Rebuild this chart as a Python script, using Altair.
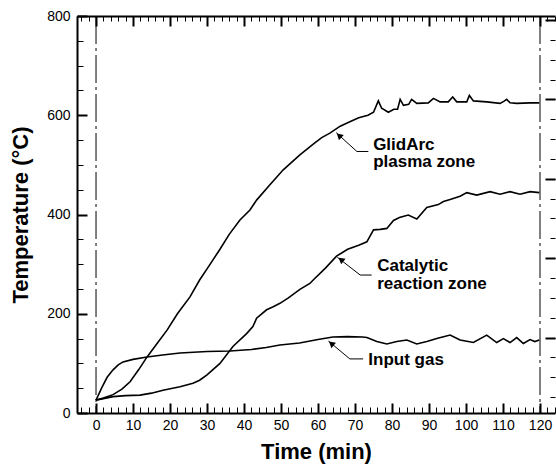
import altair as alt
import pandas as pd

# ---------------- data ----------------
glidarc_t = [0, 2, 4.6, 7, 9.2, 11.5, 13.8, 16.5, 19.2, 22, 25.4, 28, 30.5, 33.5, 36, 38.9,
             41.6, 43.4, 47, 50.6, 55.1, 58.7, 61, 63.2, 66, 68.6, 71, 73.5, 75, 76.3, 77.2,
             79, 80.5, 81.5, 82.2, 83.1, 84.5, 85.3, 86.7, 89.8, 91.2, 93, 95.2, 96.4, 97.5,
             100.2, 100.9, 102, 105.6, 109.2, 110.2, 111, 111.9, 113.7, 117.3, 119.8]
glidarc_T = [26, 30, 37, 48, 63, 87, 113, 140, 167, 200, 234, 268, 296, 330, 360, 389,
             409, 429, 460, 490, 520, 542, 555, 564, 578, 587, 595, 600, 606, 629, 614,
             606, 612, 612, 632, 620, 622, 632, 624, 625, 634, 627, 627, 637, 627,
             627, 640, 629, 627, 624, 628, 632, 625, 624, 625, 625]

catalytic_t = [0, 4.6, 8, 11.9, 15, 18.1, 22.7, 26.2, 28, 30, 33.5, 37, 40.7, 42.4, 43.4,
               46.1, 47.9, 49.7, 52, 55.1, 57.8, 58.7, 62, 65, 68, 71, 73.2, 75, 76.8, 78.6,
               80.4, 82, 84.4, 86.7, 89.4, 92.5, 93.9, 95.7, 98.4, 100.2, 102.9, 106.5,
               109.2, 111.9, 114.6, 117.3, 119.8]
catalytic_T = [26, 33, 35, 36, 40, 46, 53, 60, 66, 77, 100, 134, 160, 174, 191,
               208, 214, 221, 232, 249, 261, 268, 292, 316, 330, 338, 345, 369, 370, 372,
               388, 394, 399, 391, 414, 420, 426, 430, 437, 444, 439, 446,
               441, 446, 441, 446, 444]

inputgas_t = [0, 1.5, 3, 4.6, 6, 7.3, 10, 13.8, 18, 22.7, 30, 36.2, 42, 46, 49.7, 55, 60,
              64, 68, 72, 73.2, 75.9, 78.6, 81.3, 84, 86.7, 89.4, 92.1, 95.7, 98.4, 102,
              105.6, 108.3, 110.1, 111.9, 113.7, 115.5, 117.3, 118.6, 119.8]
inputgas_T = [26, 50, 72, 87, 97, 103, 108, 113, 117, 121, 124, 125, 128, 132, 137, 141, 148,
              153, 154, 153, 152, 144, 139, 144, 147, 139, 144, 150, 157, 147, 142,
              157, 142, 150, 142, 152, 140, 148, 144, 147]

# reference (dash-dot) vertical lines
vline_t = [0, 120]

# axis ticks
x_major = list(range(0, 121, 10))
x_minor = list(range(-4, 125, 2))
y_major = [0, 200, 400, 600, 800]
y_minor = list(range(0, 801, 50))
right_major = [152, 312, 472, 632, 792]
right_minor = list(range(32, 800, 40))

# annotations
label_text = ["GlidArc", "plasma zone", "Catalytic", "reaction zone", "Input gas"]
label_t = [74.9, 74.9, 76.0, 76.0, 73.6]
label_T = [530, 495, 286, 249, 96.7]

leader_group = ["g", "g", "g", "c", "c", "c", "i", "i", "i"]
leader_order = [0, 1, 2, 0, 1, 2, 0, 1, 2]
leader_t = [73.6, 70.5, 64.9, 74.5, 71.4, 65.2, 72.2, 68.6, 62.8]
leader_T = [527, 527, 565, 278, 278, 314, 109, 109, 145]

arrow_t = [65.7, 66.2, 63.6]
arrow_T = [559, 309, 140]
arrow_angle = [313, 308, 310]

# ---------------- frames ----------------
rows = []
for name, ts, Ts in [("GlidArc", glidarc_t, glidarc_T),
                     ("Catalytic", catalytic_t, catalytic_T),
                     ("Input gas", inputgas_t, inputgas_T)]:
    for t, T in zip(ts, Ts):
        rows.append({"series": name, "t": t, "T": T})
df = pd.DataFrame(rows)

df_v = pd.DataFrame({"t": vline_t})
df_lab = pd.DataFrame({"text": label_text, "t": label_t, "T": label_T})
df_lead = pd.DataFrame({"g": leader_group, "o": leader_order, "t": leader_t, "T": leader_T})
df_arrow = pd.DataFrame({"t": arrow_t, "T": arrow_T, "angle": arrow_angle})

W, H = 478, 397
FONT = "Liberation Sans"
xs = alt.Scale(domain=[-5.14, 124.05], nice=False, zero=False)
ys = alt.Scale(domain=[0, 800], nice=False, zero=False)


def ax(orient, values=None, size=0, width=1, offset=0, domain=False, labels=False, **kw):
    args = dict(orient=orient, offset=offset, domain=domain, labels=labels, grid=False,
                title=None, domainColor="black", domainWidth=2, tickColor="black")
    if values is not None:
        args["values"] = values
    if size > 0:
        args.update(ticks=True, tickSize=size, tickWidth=width)
    else:
        args["ticks"] = False
    args.update(kw)
    return alt.Axis(**args)


main_x = alt.Axis(orient="bottom", values=x_major, ticks=False, domain=True, domainColor="black",
                  domainWidth=2, labels=True, labelFont=FONT, labelFontSize=14, labelColor="black",
                  labelPadding=5, grid=False, title="Time (min)", titleFont=FONT, titleFontSize=22,
                  titleFontWeight="bold", titleColor="black", titlePadding=9)
main_y = alt.Axis(orient="left", values=y_major, ticks=False, domain=True, domainColor="black",
                  domainWidth=2, labels=True, labelFont=FONT, labelFontSize=14, labelColor="black",
                  labelPadding=7, grid=False, title="Temperature (°C)", titleFont=FONT,
                  titleFontSize=22, titleFontWeight="bold", titleColor="black", titlePadding=14)

# inward-pointing ticks: axes moved to the opposite edge with a negative offset
axis_pairs = [
    (ax("top", x_major, 10, 2, offset=-H), ax("right", y_major, 10, 2, offset=-W)),
    (ax("top", x_minor, 6, 1, offset=-H), ax("right", y_minor, 6, 1, offset=-W)),
    (ax("bottom", x_major, 10, 2, offset=-H), ax("left", right_major, 10, 2, offset=-W)),
    (ax("bottom", x_minor, 5, 1, offset=-H), ax("left", right_minor, 5, 1, offset=-W)),
    (ax("top", [], 0, domain=True), None),
]

layers = []
lines = alt.Chart(df).mark_line(color="black", strokeWidth=1.6).encode(
    x=alt.X("t:Q", scale=xs, axis=main_x),
    y=alt.Y("T:Q", scale=ys, axis=main_y),
    detail="series:N",
)
layers.append(lines)

for xa, ya in axis_pairs:
    layers.append(
        alt.Chart(df).mark_point(opacity=0, size=1).encode(
            x=alt.X("t:Q", scale=xs, axis=xa),
            y=alt.Y("T:Q", scale=ys, axis=ya),
        )
    )

vlines = alt.Chart(df_v).mark_rule(color="black", strokeWidth=1, strokeDash=[28, 4, 3, 4]).encode(
    x=alt.X("t:Q", scale=xs, axis=None)
)
leaders = alt.Chart(df_lead).mark_line(color="black", strokeWidth=1).encode(
    x=alt.X("t:Q", scale=xs, axis=None),
    y=alt.Y("T:Q", scale=ys, axis=None),
    detail="g:N",
    order="o:Q",
)
arrows = alt.Chart(df_arrow).mark_point(shape="triangle-up", filled=True, color="black",
                                        size=50, opacity=1).encode(
    x=alt.X("t:Q", scale=xs, axis=None),
    y=alt.Y("T:Q", scale=ys, axis=None),
    angle=alt.Angle("angle:Q", scale=None),
)
labels = alt.Chart(df_lab).mark_text(align="left", baseline="alphabetic", font=FONT,
                                     fontSize=17, fontWeight="bold", color="black").encode(
    x=alt.X("t:Q", scale=xs, axis=None),
    y=alt.Y("T:Q", scale=ys, axis=None),
    text="text:N",
)
layers += [vlines, leaders, arrows, labels]

chart = alt.layer(*layers).resolve_axis(x="independent", y="independent").properties(
    width=W, height=H,
    autosize=alt.AutoSizeParams(type="none"),
    padding={"left": 77, "top": 16, "right": 1, "bottom": 55},
    background="white",
).configure_view(strokeWidth=0)

chart.save("out.html", embed_options={"renderer": "svg", "actions": False})
